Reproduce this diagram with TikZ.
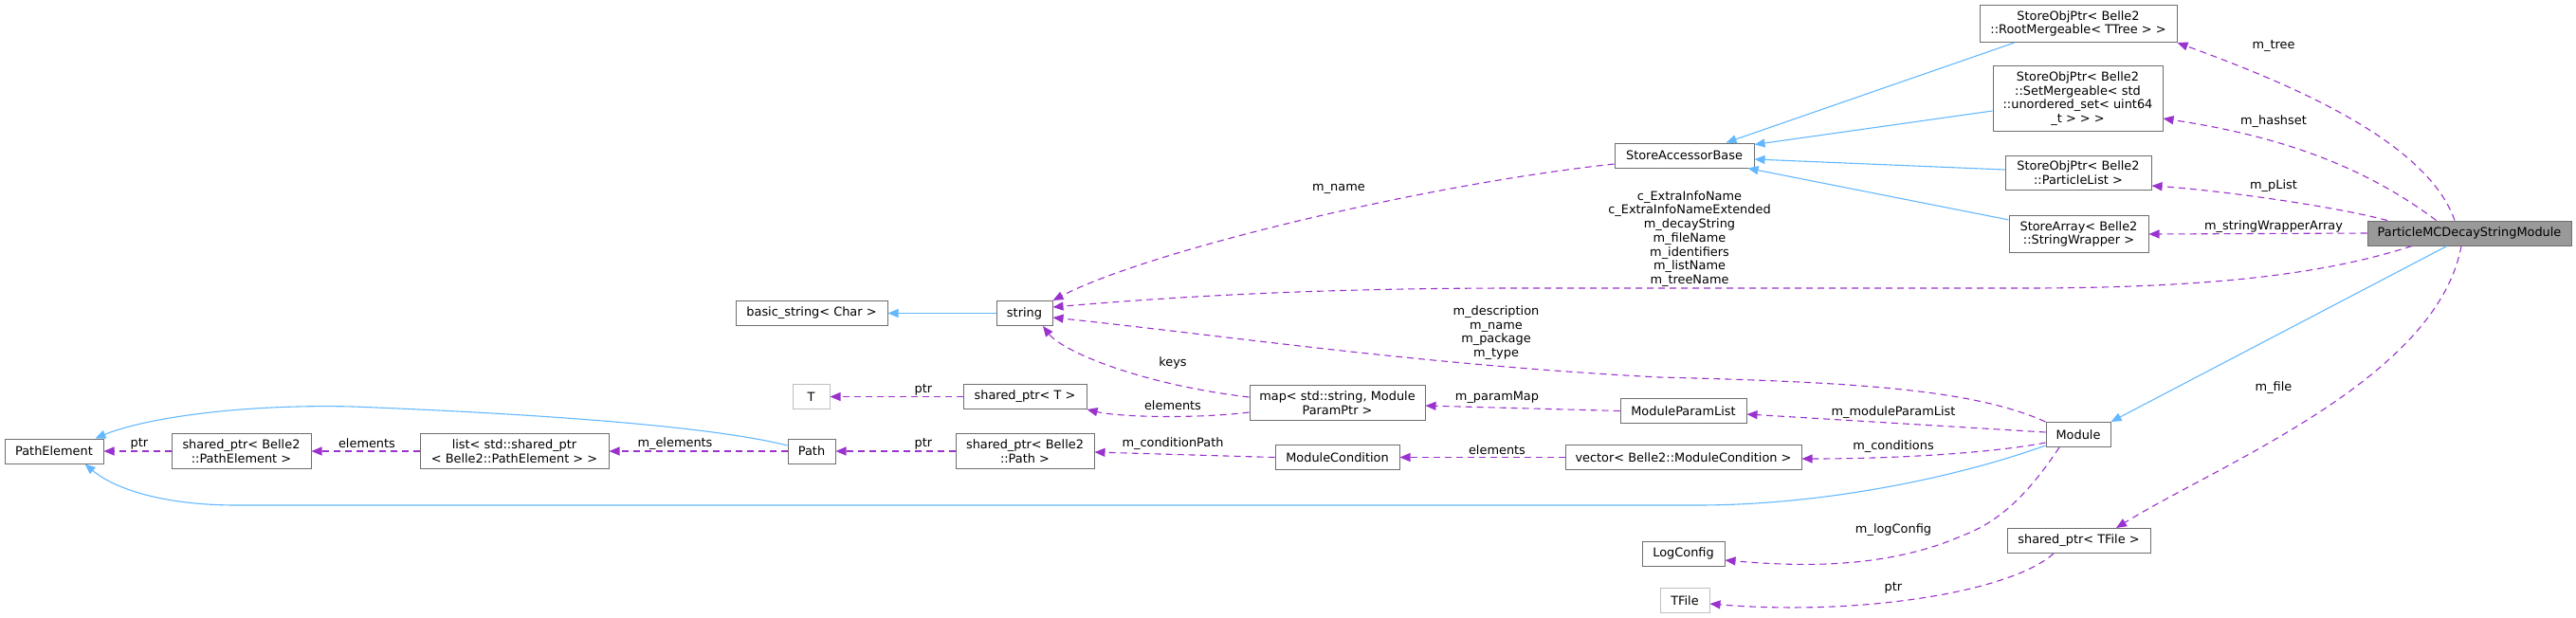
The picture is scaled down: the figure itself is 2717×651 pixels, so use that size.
\documentclass[tikz,border=0pt]{standalone}
\usepackage{fontspec}
\setmainfont{DejaVu Sans}
\usetikzlibrary{arrows.meta}
\definecolor{inhblue}{HTML}{63B8FF}
\definecolor{usepurple}{HTML}{9A32CD}
\definecolor{boxgray}{HTML}{6E6E6E}
\definecolor{extgray}{HTML}{BFBFBF}
\definecolor{mainfill}{HTML}{999999}
\tikzset{
  cls/.style={draw=boxgray, line width=1pt, fill=white, align=center,
    inner xsep=2pt, inner ysep=6pt, minimum height=26pt,
    font=\fontsize{12.9}{14.7}\selectfont},
  ext/.style={cls, draw=extgray},
  main/.style={cls, fill=mainfill},
  lbl/.style={align=center, inner sep=0pt, font=\fontsize{12.9}{14.7}\selectfont},
  inh/.style={draw=inhblue, line width=1.1pt, -{Triangle[length=11pt,width=9pt]}},
  use/.style={draw=usepurple, line width=1.1pt, dash pattern=on 7pt off 5pt,
    -{Triangle[length=11pt,width=9pt]}},
}
\begin{document}
\begin{tikzpicture}[x=1pt,y=-1pt]
      \useasboundingbox (0,0) rectangle (2717,651);
      \draw
        (2604.5,246) node[main,minimum width=215pt] (pmcdsm){ParticleMCDecayStringModule}
        (2192,25) node[cls,minimum width=208pt] (rootm){StoreObjPtr< Belle2\\::RootMergeable< TTree > >}
        (2191.5,104) node[cls,minimum width=179pt] (setm){StoreObjPtr< Belle2\\::SetMergeable< std\\::unordered\_set< uint64\\\_t > > >}
        (2192,182.5) node[cls,minimum width=154pt] (plist){StoreObjPtr< Belle2\\::ParticleList >}
        (2192.5,247) node[cls,minimum width=147pt] (swrap){StoreArray< Belle2\\::StringWrapper >}
        (1776.5,164) node[cls,minimum width=147pt] (sab){StoreAccessorBase}
        (1080.5,330.5) node[cls,minimum width=59pt] (str){string}
        (856,330.5) node[cls,minimum width=160pt] (bstr){basic\_string< Char >}
        (855.5,418.5) node[ext,minimum width=39pt] (T){T}
        (1081,418.5) node[cls,minimum width=130pt] (spT){shared\_ptr< T >}
        (1410.5,425) node[cls,minimum width=185pt] (map){map< std::string, Module\\ParamPtr >}
        (1775.5,433.5) node[cls,minimum width=133pt] (mpl){ModuleParamList}
        (57,476) node[cls,minimum width=104pt] (pe){PathElement}
        (254.5,476) node[cls,minimum width=147pt] (spPE){shared\_ptr< Belle2\\::PathElement >}
        (542.5,476) node[cls,minimum width=199pt] (lst){list< std::shared\_ptr\\< Belle2::PathElement > >}
        (856,476) node[cls,minimum width=50pt] (path){Path}
        (1081,476) node[cls,minimum width=146pt] (spPath){shared\_ptr< Belle2\\::Path >}
        (1410.5,482.5) node[cls,minimum width=131pt] (mcond){ModuleCondition}
        (1775.5,482.5) node[cls,minimum width=249pt] (vec){vector< Belle2::ModuleCondition >}
        (2192,458.5) node[cls,minimum width=68pt] (module){Module}
        (1775.5,584) node[cls,minimum width=87pt] (logc){LogConfig}
        (2192.5,570.5) node[cls,minimum width=151pt] (spTF){shared\_ptr< TFile >}
        (1777,633.5) node[ext,minimum width=52pt] (tfile){TFile};
      \begin{scope}[inh]
        \draw ([xshift=37pt]rootm.south west) to ([xshift=-30pt]sab.north east);
        \draw ([yshift=-13pt]setm.west) to ([yshift=-2pt]sab.north east);
        \draw ([yshift=3.5pt]plist.west) to ([yshift=-4pt]sab.east);
        \draw ([yshift=-5pt]swrap.north west) to ([xshift=-7pt]sab.south east);
        \draw (str.west) to (bstr.east);
        \draw ([yshift=6pt]path.west) .. controls (760,452) and (600,438) .. (373,429)
          .. controls (250,426) and (150,442) .. ([xshift=-9pt]pe.north east);
        \draw ([yshift=2pt]module.south west) .. controls (2060,505) and (1920,533) .. (1790,533)
          to (250,533) .. controls (170,533) and (120,515) .. ([xshift=-20pt]pe.south east);
        \draw ([xshift=-23.5pt]pmcdsm.south) to (module.north east);
      \end{scope}
      \begin{scope}[use]
        \draw ([xshift=-15.5pt]pmcdsm.north) .. controls (2560,150) and (2420,90) .. (rootm.south east);
        \draw ([xshift=-35pt]pmcdsm.north) .. controls (2480,165) and (2380,140) .. ([yshift=-21pt]setm.east);
        \draw ([xshift=-86.5pt]pmcdsm.north) .. controls (2450,215) and (2330,200) .. ([yshift=-13.5pt]plist.east);
        \draw (pmcdsm.west) to (swrap.east);
        \draw ([xshift=-60.5pt]pmcdsm.south) .. controls (2450,290) and (2330,303) .. (2150,304)
          to (1600,304) .. controls (1400,304) and (1250,312) .. ([yshift=6.5pt]str.east);
        \draw ([yshift=-9pt]sab.west) .. controls (1500,195) and (1210,265) .. (str.north east);
        \draw (module.north west) .. controls (2080,410) and (1950,403) .. (1750,398)
          .. controls (1500,385) and (1300,355) .. ([yshift=-4.5pt]str.east);
        \draw ([yshift=6pt]map.west) .. controls (1200,405) and (1120,370) .. ([xshift=19.5pt]str.south);
        \draw ([yshift=-10pt]map.west) .. controls (1260,442) and (1180,440) .. (spT.south east);
        \draw (spT.west) to (T.east);
        \draw (mpl.west) to ([yshift=-3pt]map.east);
        \draw ([yshift=2.5pt]module.west) to ([yshift=-3.5pt]mpl.east);
        \draw (vec.west) to (mcond.east);
        \draw (mcond.west) to ([yshift=-1pt]spPath.east);
        \draw (spPath.west) to (path.east);
        \draw (path.west) to (lst.east);
        \draw (lst.west) to (spPE.east);
        \draw (spPE.west) to (pe.east);
        \draw ([yshift=-8.5pt]module.west) .. controls (2100,478) and (2000,484) .. ([yshift=-1.5pt]vec.east);
        \draw ([xshift=-20pt]module.south) .. controls (2140,520) and (2110,550) .. (2070,565)
          .. controls (1990,600) and (1900,598) .. ([yshift=-7pt]logc.east);
        \draw ([xshift=-8.5pt]pmcdsm.south) .. controls (2570,400) and (2340,490) .. ([xshift=39.5pt]spTF.north);
        \draw ([xshift=-26.5pt]spTF.south) .. controls (2120,625) and (1960,650) .. ([yshift=-3.5pt]tfile.east);
      \end{scope}
      \draw
        (2398,48) node[lbl] (l1){m\_tree}
        (2398,128) node[lbl] (l2){m\_hashset}
        (2398,196) node[lbl] (l3){m\_pList}
        (2398,239) node[lbl] (l4){m\_stringWrapperArray}
        (1782,252) node[lbl] (l5){c\_ExtraInfoName\\c\_ExtraInfoNameExtended\\m\_decayString\\m\_fileName\\m\_identifiers\\m\_listName\\m\_treeName}
        (1412,199) node[lbl] (l6){m\_name}
        (1578,351) node[lbl] (l7){m\_description\\m\_name\\m\_package\\m\_type}
        (1237,383) node[lbl] (l8){keys}
        (1237,428) node[lbl] (l9){elements}
        (974,411) node[lbl] (l10){ptr}
        (1579,419) node[lbl] (l11){m\_paramMap}
        (974,468) node[lbl] (l12){ptr}
        (1237,468) node[lbl] (l13){m\_conditionPath}
        (1579,475) node[lbl] (l14){elements}
        (1997,435) node[lbl] (l15){m\_moduleParamList}
        (1997,471) node[lbl] (l16){m\_conditions}
        (1997,559) node[lbl] (l17){m\_logConfig}
        (1997,620) node[lbl] (l18){ptr}
        (2398,409) node[lbl] (l19){m\_file}
        (147,468) node[lbl] (l20){ptr}
        (387,468) node[lbl] (l21){elements}
        (712,468) node[lbl] (l22){m\_elements};
    \end{tikzpicture}
\end{document}
